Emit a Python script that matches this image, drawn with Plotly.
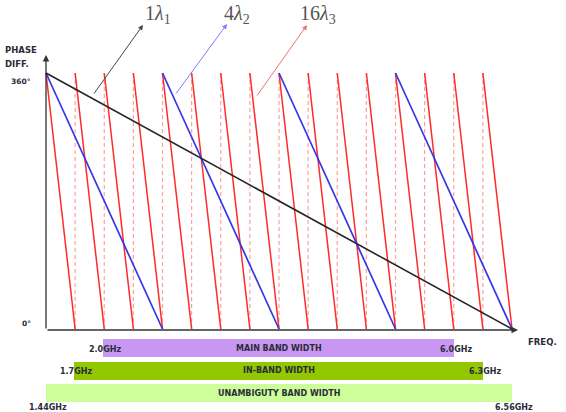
import plotly.graph_objects as go

W, H = 566, 412

# ---------------- data ----------------
f_start_ghz = 1.44
f_stop_ghz = 6.56
phase_max_deg = 360

black_wraps_ghz = [1.44, 6.56]                      # 1 lambda_1 : one wrap
blue_wraps_ghz = [1.44, 2.72, 4.00, 5.28, 6.56]     # 4 lambda_2 : four wraps
red_wraps_ghz = [1.44, 1.76, 2.08, 2.40, 2.72, 3.04, 3.36, 3.68, 4.00,
                 4.32, 4.64, 4.96, 5.28, 5.60, 5.92, 6.24, 6.56]  # 16 lambda_3

band_names = ["MAIN BAND WIDTH", "IN-BAND WIDTH", "UNAMBIGUTY BAND WIDTH"]
band_start_ghz = [2.07, 1.75, 1.44]
band_end_ghz = [5.92, 6.24, 6.56]
band_start_labels = ["2.0GHz", "1.7GHz", "1.44GHz"]
band_end_labels = ["6.0GHz", "6.3GHz", "6.56GHz"]
band_colors = ["#c897f2", "#92c800", "#ccff99"]

y_tick_labels = ["0°", "360°"]

# ---------------- helpers ----------------
def px(x):
    return x / W

def py(y):
    return 1 - y / H

# x axis: 1.44 GHz at px 46, 6.56 GHz at px 512
ppg = (512 - 46) / (f_stop_ghz - f_start_ghz)
x_range = [f_start_ghz - 46 / ppg, f_start_ghz + (W - 46) / ppg]

# y axis: 0 deg at px 329, 360 deg at px 73
ppd = (329 - 73) / phase_max_deg
y_lo, y_hi = -20, 380
y_dom = [py(329 + (0 - y_lo) * ppd), py(73 - (y_hi - phase_max_deg) * ppd)]

def sawtooth(wraps):
    xs, ys = [], []
    for a, b in zip(wraps[:-1], wraps[1:]):
        xs += [a, b, None]
        ys += [phase_max_deg, 0, None]
    return xs, ys

def verticals(wraps):
    xs, ys = [], []
    for a in wraps[1:-1]:
        xs += [a, a, None]
        ys += [0, phase_max_deg, None]
    return xs, ys

fig = go.Figure()

dx, dy = verticals(red_wraps_ghz)
fig.add_trace(go.Scatter(x=dx, y=dy, mode="lines",
                         line=dict(color="#ffa0a0", width=1.2, dash="4px,3px"),
                         hoverinfo="skip"))
rx, ry = sawtooth(red_wraps_ghz)
fig.add_trace(go.Scatter(x=rx, y=ry, mode="lines",
                         line=dict(color="#ff2a2a", width=1.5), hoverinfo="skip"))
bx, by = sawtooth(blue_wraps_ghz)
fig.add_trace(go.Scatter(x=bx, y=by, mode="lines",
                         line=dict(color="#3636e6", width=1.7), hoverinfo="skip"))
kx, ky = sawtooth(black_wraps_ghz)
fig.add_trace(go.Scatter(x=kx, y=ky, mode="lines",
                         line=dict(color="#262626", width=1.6), hoverinfo="skip"))

# bands
fig.add_trace(go.Bar(
    y=band_names, x=[e - s for s, e in zip(band_start_ghz, band_end_ghz)],
    base=band_start_ghz, orientation="h", width=0.82,
    marker=dict(color=band_colors, line=dict(width=0)),
    xaxis="x", yaxis="y2", hoverinfo="skip"))

ann = []
lab_font = dict(family="DejaVu Sans", size=8, color="#2b2b3a")
for i, name in enumerate(band_names):
    ann.append(dict(x=(band_start_ghz[i] + band_end_ghz[i]) / 2, y=name,
                    xref="x", yref="y2", text="<b>%s</b>" % name,
                    xanchor="center", yanchor="middle",
                    showarrow=False, font=lab_font))
    yshift = -14 if i == 2 else -1
    ann.append(dict(x=band_start_ghz[i], y=name, xref="x", yref="y2",
                    text="<b>%s</b>" % band_start_labels[i], showarrow=False,
                    xanchor="center", yanchor="middle",
                    xshift=2, yshift=yshift, font=lab_font))
    ann.append(dict(x=band_end_ghz[i], y=name, xref="x", yref="y2",
                    text="<b>%s</b>" % band_end_labels[i], showarrow=False,
                    xanchor="center", yanchor="middle",
                    xshift=2, yshift=yshift, font=lab_font))

# axis arrows
axis_col = "#333333"
ann.append(dict(x=px(518), y=py(330), xref="paper", yref="paper", text="",
                showarrow=True, arrowhead=2, arrowsize=1, arrowwidth=1.3,
                arrowcolor=axis_col, ax=46 - 518, ay=0, standoff=0))
ann.append(dict(x=px(46), y=py(55), xref="paper", yref="paper", text="",
                showarrow=True, arrowhead=2, arrowsize=1, arrowwidth=1.3,
                arrowcolor=axis_col, ax=0, ay=330 - 55, standoff=0))

small = dict(family="DejaVu Sans", size=8.5, color="#2b2b3a")
tick_font = dict(family="DejaVu Sans", size=7.5, color="#2b2b3a")
ann += [
    dict(x=px(3), y=py(50), text="<b>PHASE</b>", xanchor="left", font=small),
    dict(x=px(3), y=py(64), text="<b>DIFF.</b>", xanchor="left", font=small),
    dict(x=px(33), y=py(81), text="<b>%s</b>" % y_tick_labels[1],
         xanchor="right", font=tick_font),
    dict(x=px(33), y=py(323), text="<b>%s</b>" % y_tick_labels[0],
         xanchor="right", font=tick_font),
    dict(x=px(526), y=py(342), text="<b>FREQ.</b>", xanchor="left", font=small),
]
for a in ann[-5:]:
    a.update(xref="paper", yref="paper", showarrow=False, yanchor="middle")

# series labels with pointer arrows
serif = "Liberation Serif"
labels = [
    ("1<i>λ</i><sub>1</sub>", 158, 15, 143, 25, 93, 95, "#444444"),
    ("4<i>λ</i><sub>2</sub>", 237, 15, 227, 24, 175, 95, "#7c7cff"),
    ("16<i>λ</i><sub>3</sub>", 318, 15, 307, 25, 256, 97, "#ee7070"),
]
for txt, tx, ty, hx, hy, tlx, tly, acol in labels:
    ann.append(dict(x=px(tx), y=py(ty), xref="paper", yref="paper", text=txt,
                    xanchor="center", yanchor="middle", showarrow=False,
                    font=dict(family=serif, size=20, color="#555555")))
    ann.append(dict(x=px(hx), y=py(hy), xref="paper", yref="paper", text="",
                    showarrow=True, arrowhead=2, arrowsize=1, arrowwidth=1,
                    arrowcolor=acol, ax=tlx - hx, ay=tly - hy, standoff=0))

fig.update_layout(
    width=W, height=H, margin=dict(l=0, r=0, t=0, b=0),
    paper_bgcolor="white", plot_bgcolor="rgba(0,0,0,0)",
    showlegend=False, bargap=0,
    xaxis=dict(range=x_range, domain=[0, 1], anchor="y", visible=False,
               fixedrange=True),
    yaxis=dict(range=[y_lo, y_hi], domain=y_dom, visible=False, fixedrange=True),
    yaxis2=dict(domain=[py(404.25), py(336.75)], anchor="x", type="category",
                categoryorder="array", categoryarray=band_names,
                range=[2.5, -0.5], visible=False, fixedrange=True),
    annotations=ann,
)

fig.write_html("out.html")
